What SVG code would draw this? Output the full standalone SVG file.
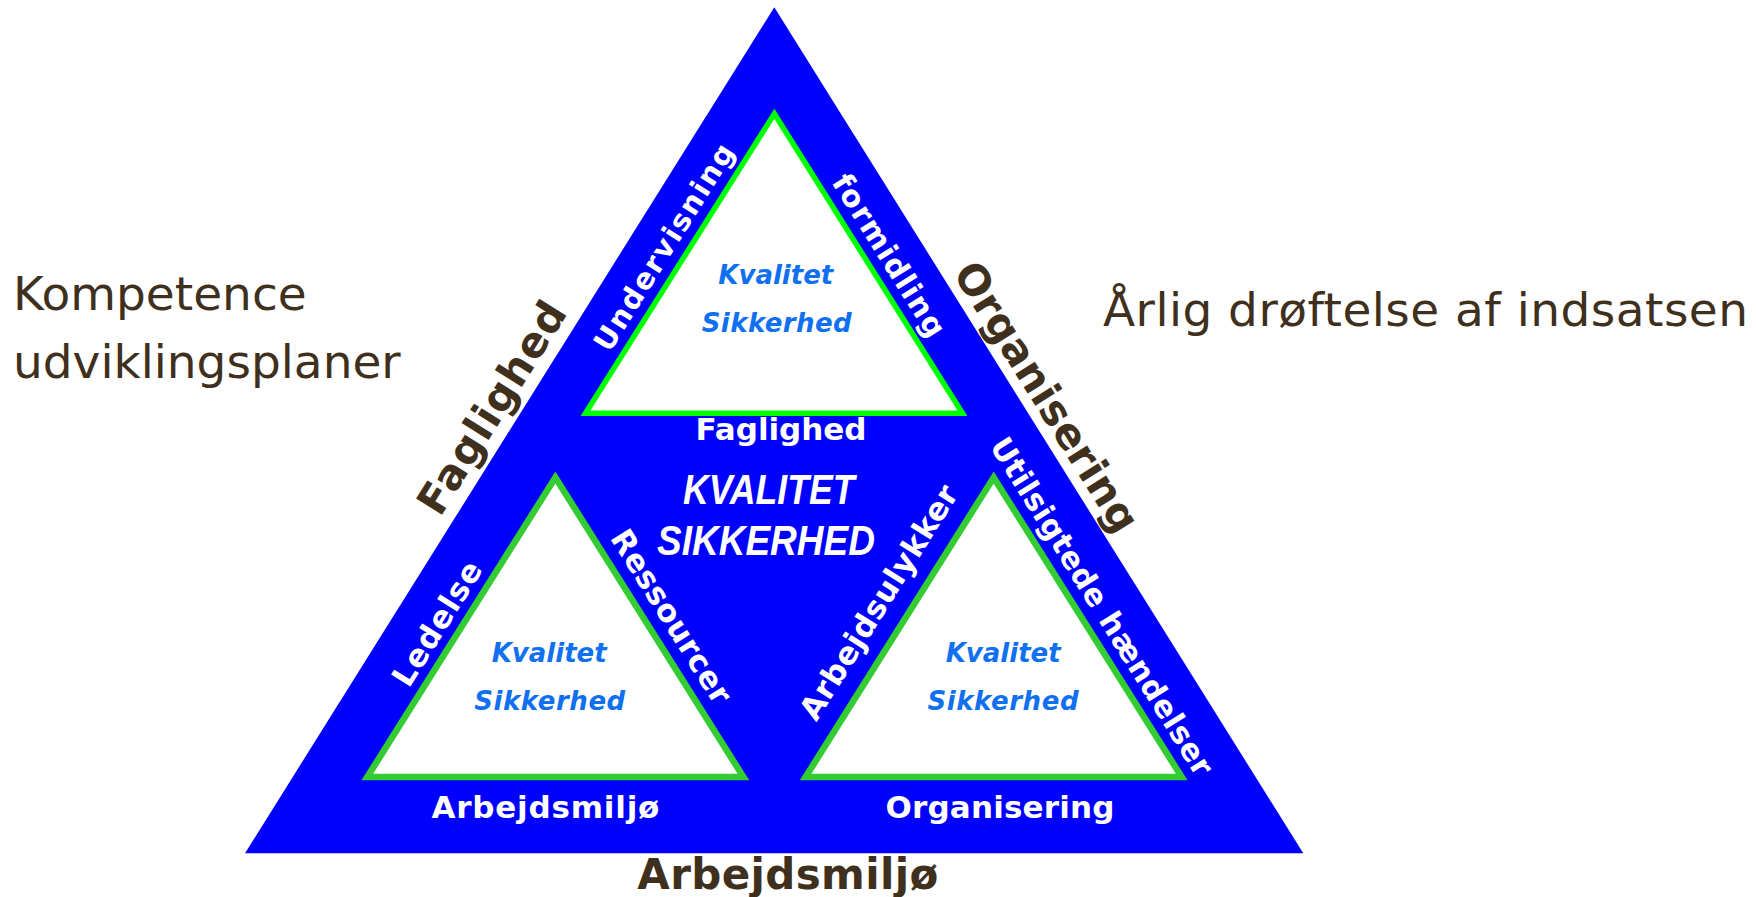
<svg xmlns="http://www.w3.org/2000/svg" width="1756" height="897" viewBox="0 0 1756 897">
<style>
.side{font-family:"DejaVu Sans","Noto Sans",sans-serif;font-size:47px;fill:#3f301d}
.big{font-family:"DejaVu Sans","Noto Sans",sans-serif;font-weight:bold;font-size:42px;fill:#3f301d}
.wl{font-family:"DejaVu Sans","Noto Sans",sans-serif;font-weight:bold;font-size:30px;fill:#ffffff}
.inner{font-family:"DejaVu Sans","Noto Sans",sans-serif;font-weight:bold;font-style:italic;font-size:26px;fill:#1070f0;text-anchor:middle}
.center{font-family:"Liberation Sans",Arial,sans-serif;font-weight:bold;font-style:italic;font-size:42px;fill:#ffffff}
.tri-top{fill:#ffffff;stroke:#00ff00;stroke-width:5.5}
.tri-low{fill:#ffffff;stroke:#33cc33;stroke-width:6.5}
.mid{text-anchor:middle}
</style>
<g id="outer-triangle">
<polygon points="774.3,7.3 1303.3,853.3 245,853.3" fill="#0000ff"/>
<text class="big" x="440" y="518" transform="rotate(-58 440 518)" textLength="242">Faglighed</text>
<text class="big" x="952.3" y="273" transform="rotate(58 952.3 273)" textLength="310">Organisering</text>
<text class="big mid" x="787.8" y="889" textLength="301">Arbejdsmiljø</text>
<text class="wl mid" x="781" y="440" style="font-size:31px" textLength="171">Faglighed</text>
<text class="wl mid" x="545.4" y="818" style="font-size:31px" textLength="228">Arbejdsmiljø</text>
<text class="wl mid" x="1000" y="818" style="font-size:31px" textLength="229">Organisering</text>
<text class="center" x="683" y="504" textLength="171.6" lengthAdjust="spacingAndGlyphs">KVALITET</text>
<text class="center" x="657" y="555" textLength="218" lengthAdjust="spacingAndGlyphs">SIKKERHED</text>
</g>
<g id="top-triangle">
<polygon class="tri-top" points="774.3,113.8 962.5,413.3 585.5,413.3"/>
<text class="inner" x="775.8" y="284" textLength="115">Kvalitet</text>
<text class="inner" x="776.7" y="332.3" textLength="150">Sikkerhed</text>
<text class="wl" x="609.4" y="353.4" transform="rotate(-58 609.4 353.4)" style="font-size:29px" textLength="238">Undervisning</text>
<text class="wl" x="831" y="182" transform="rotate(58 831 182)" textLength="186">formidling</text>
</g>
<g id="left-triangle">
<polygon class="tri-low" points="555.35,477.5 743.4,777 367.3,777"/>
<text class="inner" x="549.2" y="662.3" textLength="115">Kvalitet</text>
<text class="inner" x="549.7" y="710" textLength="151">Sikkerhed</text>
<text class="wl" x="408.8" y="689" transform="rotate(-58 408.8 689)" style="font-size:31px" textLength="141">Ledelse</text>
<text class="wl" x="609.6" y="537.8" transform="rotate(58 609.6 537.8)" style="font-size:31px" textLength="199">Ressourcer</text>
</g>
<g id="right-triangle">
<polygon class="tri-low" points="993.65,477.5 1181.7,777 805.6,777"/>
<text class="inner" x="1003.2" y="662.3" textLength="115">Kvalitet</text>
<text class="inner" x="1003" y="710" textLength="151">Sikkerhed</text>
<text class="wl" x="816.3" y="722.4" transform="rotate(-58 816.3 722.4)" style="font-size:31px" textLength="270">Arbejdsulykker</text>
<text class="wl" x="989.1" y="445.8" transform="rotate(58 989.1 445.8)" style="font-size:30.5px" textLength="392">Utilsigtede hændelser</text>
</g>
<g id="kompetence">
<text class="side" x="13" y="310">Kompetence</text>
<text class="side" x="13" y="378">udviklingsplaner</text>
</g>
<g id="aarlig">
<text class="side" x="1103" y="326" textLength="645">Årlig drøftelse af indsatsen</text>
</g>
<g id="connectors"/>
</svg>
